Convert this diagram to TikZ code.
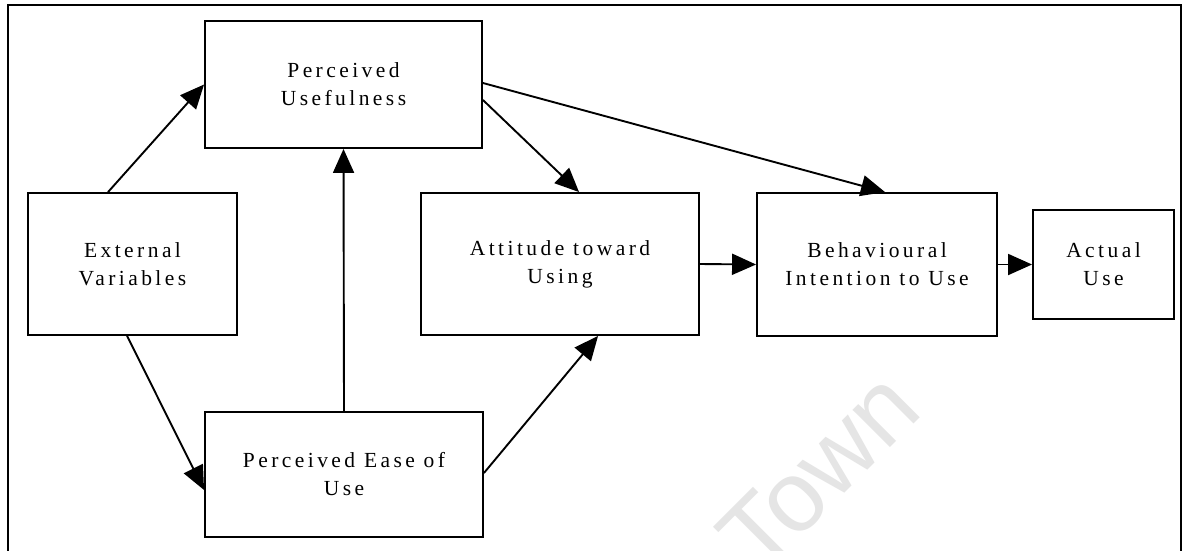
\documentclass[tikz,border=0pt]{standalone}
\usepackage{fontspec}
\setmainfont{Liberation Serif}
\newfontfamily\boxfont[LetterSpace=16]{Liberation Serif}
\newfontfamily\wmfont{Liberation Sans}
\usetikzlibrary{arrows.meta,calc}
\tikzset{
  tambox/.style={draw=black, line width=1.9pt, rectangle, inner sep=0pt, align=center,
    font=\boxfont\fontsize{21.5}{28}\selectfont},
  tamarrow/.style={draw=black, line width=1.9pt, -{Triangle[length=24pt,width=21pt]}},
  frameline/.style={draw=black, line width=1.8pt}
}
\begin{document}
\begin{tikzpicture}[x=1pt,y=-1pt]
\useasboundingbox (0,0) rectangle (1183,550);
\clip (0,0) rectangle (1183,550);
\fill[white] (0,0) rectangle (1183,550);
% watermark
\node[anchor=base west, rotate=45, text=black!10, font=\wmfont\fontsize{100}{100}\selectfont, inner sep=0pt] (wm) at (760,578) {Town};
% outer frame
\coordinate (fbl) at (8,600);
\coordinate (ftl) at (8,5);
\coordinate (ftr) at (1181,5);
\coordinate (fbr) at (1181,600);
\draw[frameline] (fbl) -- (ftl) -- (ftr) -- (fbr);
% boxes
\node[tambox, minimum width=277pt, minimum height=127pt] (pu) at (343.5,84.5) {Perceived\\Usefulness};
\node[tambox, minimum width=209pt, minimum height=142pt] (ev) at (132.5,264) {External\\Variables};
\node[tambox, minimum width=278pt, minimum height=142pt] (at) at (560,264) {Attitude toward\\Using};
\node[tambox, minimum width=240pt, minimum height=143pt] (bi) at (877,264.5) {Behavioural\\Intention to Use};
\node[tambox, minimum width=141pt, minimum height=109pt] (au) at (1103.5,264.5) {Actual\\Use};
\node[tambox, minimum width=278pt, minimum height=125pt] (ea) at (344,474.5) {Perceived Ease of\\Use};
% connectors
\draw[tamarrow] ([xshift=81pt]ev.north west) -- (pu.west);
\draw[tamarrow] ([xshift=100pt]ev.south west) -- ([yshift=-15.5pt]ea.west);
\draw[tamarrow] (ea.north) -- (pu.south);
\draw[tamarrow] ([yshift=-15.5pt]pu.east) -- ([xshift=159pt]at.north west);
\draw[tamarrow] ([yshift=1.5pt]pu.east) -- ([xshift=8pt]bi.north);
\draw[tamarrow] ([yshift=1.5pt]ea.east) -- ([xshift=178pt]at.south west);
\draw[tamarrow] (at.east) -- (bi.west);
\draw[tamarrow] (bi.east) -- (au.west);
\end{tikzpicture}
\end{document}
